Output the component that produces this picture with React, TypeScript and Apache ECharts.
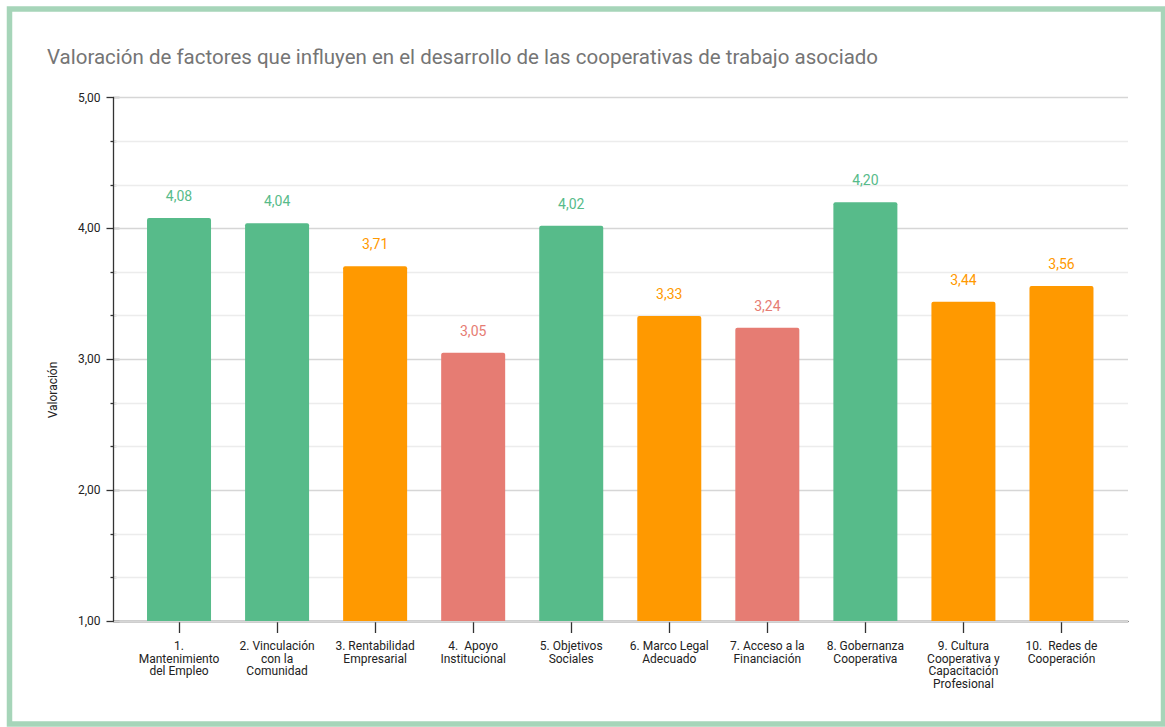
import React, { useEffect, useRef } from "react";
import * as echarts from "echarts";

const titleText =
  "Valoración de factores que influyen en el desarrollo de las cooperativas de trabajo asociado";
const yAxisTitle = "Valoración";
const categories = [
  "1.\nMantenimiento\ndel Empleo",
  "2. Vinculación\ncon la\nComunidad",
  "3. Rentabilidad\nEmpresarial",
  "4.  Apoyo\nInstitucional",
  "5. Objetivos\nSociales",
  "6. Marco Legal\nAdecuado",
  "7. Acceso a la\nFinanciación",
  "8. Gobernanza\nCooperativa",
  "9. Cultura\nCooperativa y\nCapacitación\nProfesional",
  "10.  Redes de\nCooperación",
];
const values = [4.08, 4.04, 3.71, 3.05, 4.02, 3.33, 3.24, 4.2, 3.44, 3.56];
const GREEN = "#57bb8a";
const ORANGE = "#ff9900";
const RED = "#e67c73";
const barColors = [GREEN, GREEN, ORANGE, RED, GREEN, ORANGE, RED, GREEN, ORANGE, ORANGE];
const yMin = 1;
const yMax = 5;

const fmt = (v: number) => v.toFixed(2).replace(".", ",");

export default function App() {
  const ref = useRef<HTMLDivElement>(null);
  useEffect(() => {
    if (!ref.current) return;
    const chart = echarts.init(ref.current, null, { renderer: "svg" });
    const font = "Roboto, 'Noto Sans', sans-serif";
    const top = 97.5;
    const height = 523.5;
    chart.setOption({
      animation: false,
      textStyle: { fontFamily: font },
      graphic: [
        {
          type: "rect",
          shape: { x: 9.5, y: 9, width: 1154, height: 715 },
          style: { fill: "none", stroke: "#a6d5b9", lineWidth: 5.5 },
          silent: true,
        },
        {
          type: "text",
          x: 47,
          y: 57,
          style: {
            text: titleText,
            font: `20.5px ${font}`,
            fill: "#757575",
            verticalAlign: "middle",
            align: "left",
          },
        },
        {
          type: "text",
          x: 53,
          y: 390,
          rotation: Math.PI / 2,
          style: {
            text: yAxisTitle,
            font: `12px ${font}`,
            fill: "#222222",
            verticalAlign: "middle",
            align: "center",
          },
        },
      ],
      grid: [
        { left: 113.5, top, width: 1014.5, height, containLabel: false },
        { left: 130, top, width: 980.5, height, containLabel: false },
      ],
      xAxis: [
        {
          gridIndex: 0,
          type: "value",
          min: 0,
          max: 1,
          axisLine: { show: true, onZero: false, lineStyle: { color: "#333333", width: 1.3 } },
          axisTick: { show: false },
          axisLabel: { show: false },
          splitLine: { show: false },
        },
        {
          gridIndex: 1,
          type: "category",
          data: categories,
          axisLine: { show: false },
          axisTick: {
            show: true,
            alignWithLabel: true,
            length: 12,
            lineStyle: { color: "#333333", width: 1.3 },
          },
          axisLabel: {
            interval: 0,
            margin: 19,
            fontSize: 12,
            lineHeight: 12.5,
            color: "#222222",
            fontFamily: font,
            align: "center",
            verticalAlign: "top",
          },
          splitLine: { show: false },
        },
      ],
      yAxis: [
        {
          gridIndex: 0,
          type: "value",
          min: yMin,
          max: yMax,
          interval: 1,
          axisLine: { show: true, lineStyle: { color: "#333333", width: 1.3 } },
          axisTick: { show: true, inside: false, length: 7, lineStyle: { color: "#333333", width: 1.3 } },
          minorTick: { show: true, splitNumber: 3, length: 3, lineStyle: { color: "#333333", width: 1.3 } },
          axisLabel: {
            formatter: (v: number) => fmt(v),
            fontSize: 12,
            color: "#222222",
            margin: 13,
            fontFamily: font,
          },
          splitLine: { show: true, lineStyle: { color: "#d6d6d6", width: 1.3 } },
          minorSplitLine: { show: true, lineStyle: { color: "#ececec", width: 1.3 } },
          z: 1,
        },
        {
          gridIndex: 0,
          type: "value",
          min: yMin,
          max: yMax,
          interval: 1,
          position: "left",
          axisLine: { show: false },
          axisTick: { show: true, inside: true, length: 6, lineStyle: { color: "#333333", width: 1.3 } },
          minorTick: { show: true, splitNumber: 3, length: 3, lineStyle: { color: "#333333", width: 1.3 } },
          axisLabel: { show: false },
          splitLine: { show: false },
        },
        {
          gridIndex: 1,
          type: "value",
          min: yMin,
          max: yMax,
          show: false,
          splitLine: { show: false },
        },
      ],
      series: [
        {
          type: "bar",
          xAxisIndex: 1,
          yAxisIndex: 2,
          barWidth: 64,
          data: values.map((v, i) => ({
            value: v,
            itemStyle: { color: barColors[i], borderRadius: [2, 2, 0, 0] },
            label: { color: barColors[i] },
          })),
          label: {
            show: true,
            position: "top",
            distance: 15,
            fontSize: 14,
            fontFamily: font,
            formatter: (p: any) => fmt(p.value),
          },
          z: 3,
        },
      ],
    });
    return () => chart.dispose();
  }, []);
  return (
    <div
      ref={ref}
      style={{ position: "absolute", left: 0, top: 0, width: 1165, height: 727, background: "#ffffff" }}
    />
  );
}
